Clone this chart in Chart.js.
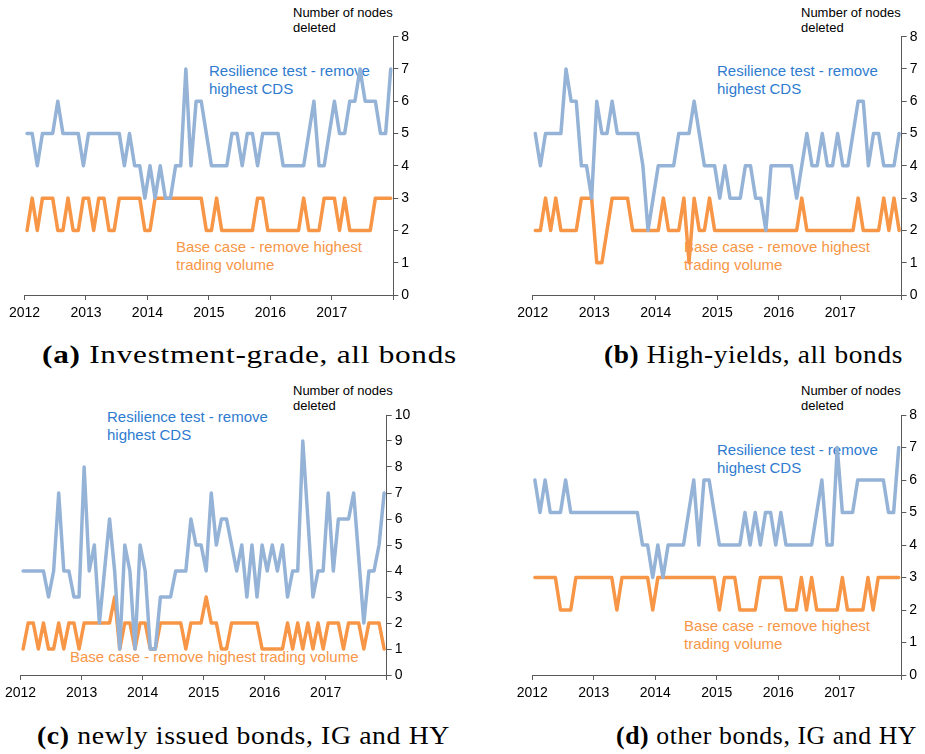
<!DOCTYPE html>
<html>
<head>
<meta charset="utf-8">
<script src="https://cdn.jsdelivr.net/npm/chart.js@4.4.0/dist/chart.umd.min.js"></script>
<style>
  body { margin: 0; background: #fff; width: 925px; height: 754px; position: relative; overflow: hidden;
         font-family: "Liberation Sans", Arial, sans-serif; }
  canvas { position: absolute; }
  .t { position: absolute; white-space: nowrap; }
  .axt { font-size: 13px; line-height: 15px; color: #000; }
  .ann { font-size: 15px; line-height: 17.6px; }
  .blue { color: #2E7BCF; }
  .orange { color: #F79646; }
  .cap { font-family: "Liberation Serif", "Times New Roman", serif; font-size: 26px; line-height: 28px;
         letter-spacing: 0.6px; color: #000; transform-origin: 0 50%; }
</style>
</head>
<body>

<div class="t axt" style="left:293px; top:4.8px;">Number of nodes<br>deleted</div>
<div class="t axt" style="left:801px; top:4.8px;">Number of nodes<br>deleted</div>
<div class="t axt" style="left:293px; top:382.5px;">Number of nodes<br>deleted</div>
<div class="t axt" style="left:801px; top:382.5px;">Number of nodes<br>deleted</div>

<div class="t ann blue" style="left:209px; top:62px;">Resilience test - remove<br>highest CDS</div>
<div class="t ann orange" style="left:176px; top:238px;">Base case - remove highest<br>trading volume</div>
<div class="t ann blue" style="left:717px; top:62px;">Resilience test - remove<br>highest CDS</div>
<div class="t ann orange" style="left:684px; top:238px;">Base case - remove highest<br>trading volume</div>
<div class="t ann blue" style="left:107px; top:408px;">Resilience test - remove<br>highest CDS</div>
<div class="t ann orange" style="left:70px; top:648px;">Base case - remove highest trading volume</div>
<div class="t ann blue" style="left:717px; top:441px;">Resilience test - remove<br>highest CDS</div>
<div class="t ann orange" style="left:684px; top:617px;">Base case - remove highest<br>trading volume</div>

<div class="t cap" data-w="415" style="left:42px; top:341px;"><b>(a)</b> Investment-grade, all bonds</div>
<div class="t cap" data-w="299" style="left:604px; top:341px;"><b>(b)</b> High-yields, all bonds</div>
<div class="t cap" data-w="413" style="left:37px; top:722px;"><b>(c)</b> newly issued bonds, IG and HY</div>
<div class="t cap" data-w="301" style="left:616px; top:722px;"><b>(d)</b> other bonds, IG and HY</div>

<script>
// Year labels for the monthly x axis (Jan 2012 - Dec 2017, 72 months)
const years = ['2012', '2013', '2014', '2015', '2016', '2017'];

// (a) Investment-grade, all bonds
const resilienceIG = [5,5,4,5,5,5,6,5,5,5,5,4, 5,5,5,5,5,5,5,4,5,4,4,3,
                      4,3,4,3,3,4,4,7,4,6,6,5, 4,4,4,4,5,5,4,5,5,4,5,5,
                      5,5,4,4,4,4,4,5,6,4,4,5, 6,5,5,6,6,7,6,6,6,5,5,7];
const baseIG       = [2,3,2,3,3,3,2,2,3,2,2,3, 3,2,3,3,2,2,3,3,3,3,3,2,
                      2,3,3,3,3,3,3,3,3,3,3,2, 2,3,2,2,2,2,2,2,2,3,3,2,
                      2,2,2,2,2,2,3,2,2,2,3,3, 3,2,3,2,2,2,2,2,3,3,3,3];

// (b) High-yields, all bonds
const resilienceHY = [5,4,5,5,5,5,7,6,6,4,4,3, 6,5,5,6,5,5,5,5,5,4,2,3,
                      4,4,4,4,5,5,5,6,5,4,4,4, 3,4,3,3,3,4,4,3,3,2,4,4,
                      4,4,4,3,4,5,4,4,5,4,4,5, 4,4,5,6,6,4,5,5,4,4,4,5];
const baseHY       = [2,2,3,2,3,2,2,2,2,3,3,3, 1,1,2,3,3,3,3,2,2,2,2,2,
                      2,3,2,2,2,3,1,3,2,2,3,2, 2,2,2,2,2,2,2,2,2,2,2,2,
                      2,2,2,2,3,2,2,2,2,2,2,2, 2,2,2,3,2,2,2,2,3,2,3,2];

// (c) newly issued bonds, IG and HY
const resilienceNew = [4,4,4,4,4,3,4,7,4,4,3,3, 8,4,5,2,4,6,4,1,5,4,1,5,
                       4,1,1,3,3,3,4,4,4,6,5,5, 4,7,5,6,6,5,4,5,3,5,3,5,
                       4,5,4,5,3,4,4,9,6,3,4,4, 7,4,6,6,6,7,4.5,2,4,4,5,7];
const baseNew       = [1,2,2,1,2,1,1,2,1,2,2,1, 2,2,2,2,2,2,3,1,2,2,1,2,
                       2,1,1,2,2,2,2,2,1,2,2,2, 3,2,2,1,1,2,2,2,2,2,2,1,
                       1,1,1,1,2,1,2,1,2,1,2,1, 2,2,2,1,2,2,2,1,2,2,2,1];

// (d) other bonds, IG and HY
const resilienceOther = [6,5,6,5,5,5,6,5,5,5,5,5, 5,5,5,5,5,5,5,5,5,4,4,3,
                         4,3,4,4,4,4,5,6,4,6,6,5, 4,4,4,4,4,5,4,5,4,5,5,4,
                         5,4,4,4,4,4,4,5,6,4,4,7, 5,5,5,6,6,6,6,6,6,5,5,7];
const baseOther       = [3,3,3,3,3,2,2,2,3,3,3,3, 3,3,3,3,2,3,3,3,3,3,3,2,
                         3,3,3,3,3,3,3,3,3,3,3,3, 2,3,3,3,2,2,2,2,3,3,3,3,
                         3,2,2,2,3,2,3,2,2,2,2,2, 3,2,2,2,2,3,2,3,3,3,3,3];

// Upper end of each panel's right-hand axis
const axisMax = [8, 8, 10, 8];

// Canvas placement and plot-area edges (in canvas pixels) for each panel
const panels = [
  { x: 0,   y: 0,   w: 465, h: 330, area: { left: 24.5, top: 36.7, right: 393.3, bottom: 295 },
    blue: resilienceIG, orange: baseIG, max: axisMax[0] },
  { x: 470, y: 0,   w: 455, h: 330, area: { left: 62.7, top: 36.7, right: 431.7, bottom: 295 },
    blue: resilienceHY, orange: baseHY, max: axisMax[1] },
  { x: 0,   y: 380, w: 465, h: 330, area: { left: 17.3, top: 35, right: 386.7, bottom: 295 },
    blue: resilienceNew, orange: baseNew, max: axisMax[2] },
  { x: 470, y: 380, w: 455, h: 330, area: { left: 62.3, top: 35, right: 431.3, bottom: 295 },
    blue: resilienceOther, orange: baseOther, max: axisMax[3] }
];

const AXIS_COLOR = '#595959';
Chart.defaults.font.family = '"Liberation Sans", Arial, sans-serif';

// Monthly values are placed in the middle of each month slot
const toPoints = arr => arr.map((v, i) => ({ x: i + 0.5, y: v }));

function drawPanel(p) {
  const cv = document.createElement('canvas');
  cv.width = p.w; cv.height = p.h;
  cv.style.left = p.x + 'px'; cv.style.top = p.y + 'px';
  cv.style.width = p.w + 'px'; cv.style.height = p.h + 'px';
  document.body.appendChild(cv);

  const lineStyle = { pointRadius: 0, tension: 0, borderWidth: 3.5,
                      borderJoinStyle: 'round', borderCapStyle: 'round', fill: false };

  new Chart(cv, {
    type: 'line',
    data: {
      datasets: [
        Object.assign({ label: 'Resilience test - remove highest CDS', data: toPoints(p.blue),
                        borderColor: '#95B3D7' }, lineStyle),
        Object.assign({ label: 'Base case - remove highest trading volume', data: toPoints(p.orange),
                        borderColor: '#F79646' }, lineStyle)
      ]
    },
    options: {
      responsive: false,
      animation: false,
      devicePixelRatio: 1,
      layout: { padding: { left: p.area.left, top: p.area.top, right: 0, bottom: 0 } },
      plugins: { legend: { display: false }, tooltip: { enabled: false } },
      scales: {
        x: {
          type: 'linear', position: 'bottom', min: 0, max: 72,
          afterFit: s => { s.height = p.h - p.area.bottom; },
          ticks: { stepSize: 12, autoSkip: false, maxRotation: 0, padding: 5, color: '#000',
                   font: { size: 14 }, callback: v => years[v / 12] ?? '' },
          grid: { drawOnChartArea: false, drawTicks: true, tickLength: 5, color: AXIS_COLOR },
          border: { display: true, color: AXIS_COLOR }
        },
        y: {
          type: 'linear', position: 'right', min: 0, max: p.max,
          afterFit: s => { s.width = p.w - p.area.right; },
          ticks: { stepSize: 1, padding: 3, color: '#000', font: { size: 14 } },
          grid: { drawOnChartArea: false, drawTicks: true, tickLength: 5, color: AXIS_COLOR },
          border: { display: true, color: AXIS_COLOR }
        }
      }
    }
  });
}

panels.forEach(drawPanel);

// Stretch each sub-figure caption horizontally to its column width
document.querySelectorAll('.cap').forEach(el => {
  const target = parseFloat(el.dataset.w);
  const w = el.getBoundingClientRect().width;
  if (w > 0) el.style.transform = 'scaleX(' + (target / w).toFixed(4) + ')';
});
</script>
</body>
</html>
